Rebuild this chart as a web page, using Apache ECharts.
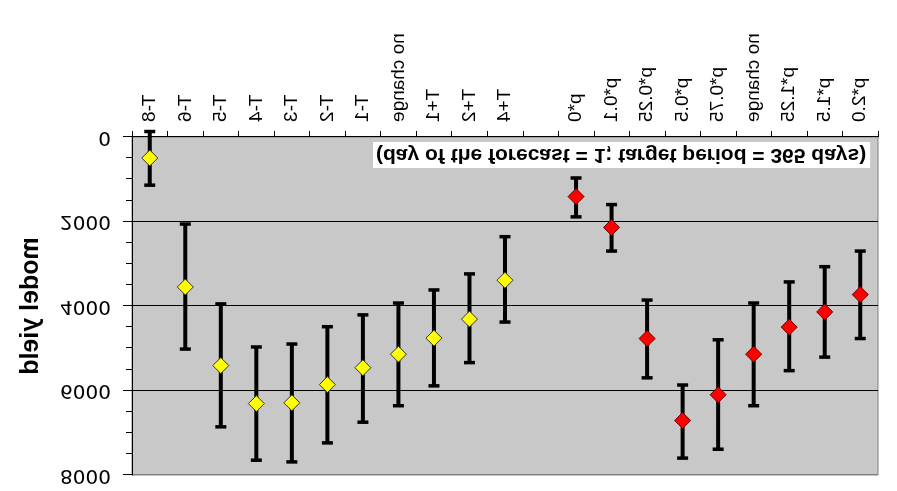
<!DOCTYPE html>
<html>
<head>
<meta charset="utf-8">
<script src="https://cdn.jsdelivr.net/npm/echarts@6.0.0/dist/echarts.min.js"></script>
<style>
  html, body { margin: 0; padding: 0; background: #fff; }
  /* the reference picture is the chart turned upside down */
  #chart { width: 897px; height: 491px; transform: scaleY(-1); }
</style>
</head>
<body>
<div id="chart"></div>
<script>
var categories = ['T-8', 'T-6', 'T-5', 'T-4', 'T-3', 'T-2', 'T-1', 'no change', 'T+1', 'T+2', 'T+4', '',
    'p*0', 'p*0.1', 'p*0.25', 'p*0.5', 'p*0.75', 'no change', 'p*1.25', 'p*1.5', 'p*2.0'];

// first group (yellow), categories 0..10
var yellowMid = [497, 3550, 5410, 6310, 6290, 5860, 5460, 5140, 4760, 4310, 3390];
var yellowLow = [-130, 2060, 3950, 4970, 4900, 4490, 4210, 3930, 3620, 3240, 2360];
var yellowHigh = [1140, 5020, 6860, 7650, 7690, 7240, 6750, 6360, 5890, 5340, 4380];

// second group (red), categories 12..20
var redMid = [1410, 2140, 4770, 6710, 6100, 5140, 4500, 4140, 3730];
var redLow = [970, 1600, 3860, 5870, 4800, 3930, 3430, 3070, 2700];
var redHigh = [1890, 2700, 5700, 7600, 7390, 6360, 5530, 5210, 4770];

var yTicks = [0, 2000, 4000, 6000, 8000];

var yellowStart = 0;
var redStart = 12;

var font = '"Liberation Sans", Arial, sans-serif';

var toPoints = function(start, mid) {
    return mid.map(function(v, i) { return [start + i, v]; });
};
var toBars = function(start, low, high) {
    return low.map(function(v, i) { return [start + i, v, high[i]]; });
};

var errorBars = toBars(yellowStart, yellowLow, yellowHigh).concat(toBars(redStart, redLow, redHigh));

var renderErrorBar = function(params, api) {
    var x = api.value(0);
    var p1 = api.coord([x, api.value(1)]);
    var p2 = api.coord([x, api.value(2)]);
    var half = 5.5;
    var line = function(x1, y1, x2, y2, w) {
        return {
            type: 'line',
            shape: { x1: x1, y1: y1, x2: x2, y2: y2 },
            style: { stroke: '#000', lineWidth: w }
        };
    };
    return {
        type: 'group',
        children: [
            line(p1[0], p1[1], p2[0], p2[1], 4),
            line(p1[0] - half, p1[1], p1[0] + half, p1[1], 3.5),
            line(p2[0] - half, p2[1], p2[0] + half, p2[1], 3.5)
        ]
    };
};

var chart = echarts.init(document.getElementById('chart'));

var option = {
    animation: false,
    title: {
        text: '(day of the forecast = 1; target period = 365 days)',
        left: 373,
        top: 323,
        backgroundColor: '#fff',
        padding: [2, 4, 2, 3],
        textStyle: {
            fontFamily: font,
            fontSize: 21,
            fontWeight: 'bold',
            color: '#000',
            lineHeight: 22
        }
    },
    grid: {
        left: 132,
        right: 19,
        top: 16,
        bottom: 137,
        show: true,
        backgroundColor: '#c8c8c8',
        borderColor: '#808080',
        borderWidth: 1
    },
    xAxis: {
        type: 'category',
        data: categories,
        axisLine: { lineStyle: { color: '#000', width: 1 } },
        axisTick: { show: true, interval: 0, length: 6, lineStyle: { color: '#000' } },
        axisLabel: {
            interval: 0,
            rotate: 90,
            margin: 15,
            color: '#000',
            fontFamily: font,
            fontSize: 19
        },
        splitLine: { show: false }
    },
    yAxis: {
        type: 'value',
        min: yTicks[0],
        max: yTicks[yTicks.length - 1],
        interval: yTicks[1] - yTicks[0],
        name: 'model yield',
        nameLocation: 'middle',
        nameGap: 88,
        nameTextStyle: {
            fontFamily: font,
            fontSize: 25,
            fontWeight: 'bold',
            color: '#000'
        },
        axisLine: { show: true, lineStyle: { color: '#000', width: 1 } },
        axisTick: { show: true, length: 9, lineStyle: { color: '#000' } },
        minorTick: { show: true, splitNumber: 4, length: 6, lineStyle: { color: '#000' } },
        axisLabel: {
            margin: 21,
            color: '#000',
            fontFamily: '"DejaVu Sans", sans-serif',
            fontSize: 20,
            formatter: function(value) {
                return String(value);
            }
        },
        splitLine: { show: true, lineStyle: { color: ['#000', '#000', '#000', '#000', '#808080'], width: 1 } }
    },
    series: [{
        type: 'custom',
        name: 'range',
        data: errorBars,
        renderItem: renderErrorBar,
        clip: false,
        z: 2,
        encode: { x: 0, y: [1, 2] }
    }, {
        type: 'scatter',
        name: 'before',
        data: toPoints(yellowStart, yellowMid),
        symbol: 'diamond',
        symbolSize: [16, 16],
        itemStyle: { color: '#ffff00', borderColor: '#333', borderWidth: 1, opacity: 1 },
        z: 3
    }, {
        type: 'scatter',
        name: 'after',
        data: toPoints(redStart, redMid),
        symbol: 'diamond',
        symbolSize: [16, 16],
        itemStyle: { color: '#ff0000', borderColor: '#600', borderWidth: 1, opacity: 1 },
        z: 3
    }]
};

chart.setOption(option);
</script>
</body>
</html>
